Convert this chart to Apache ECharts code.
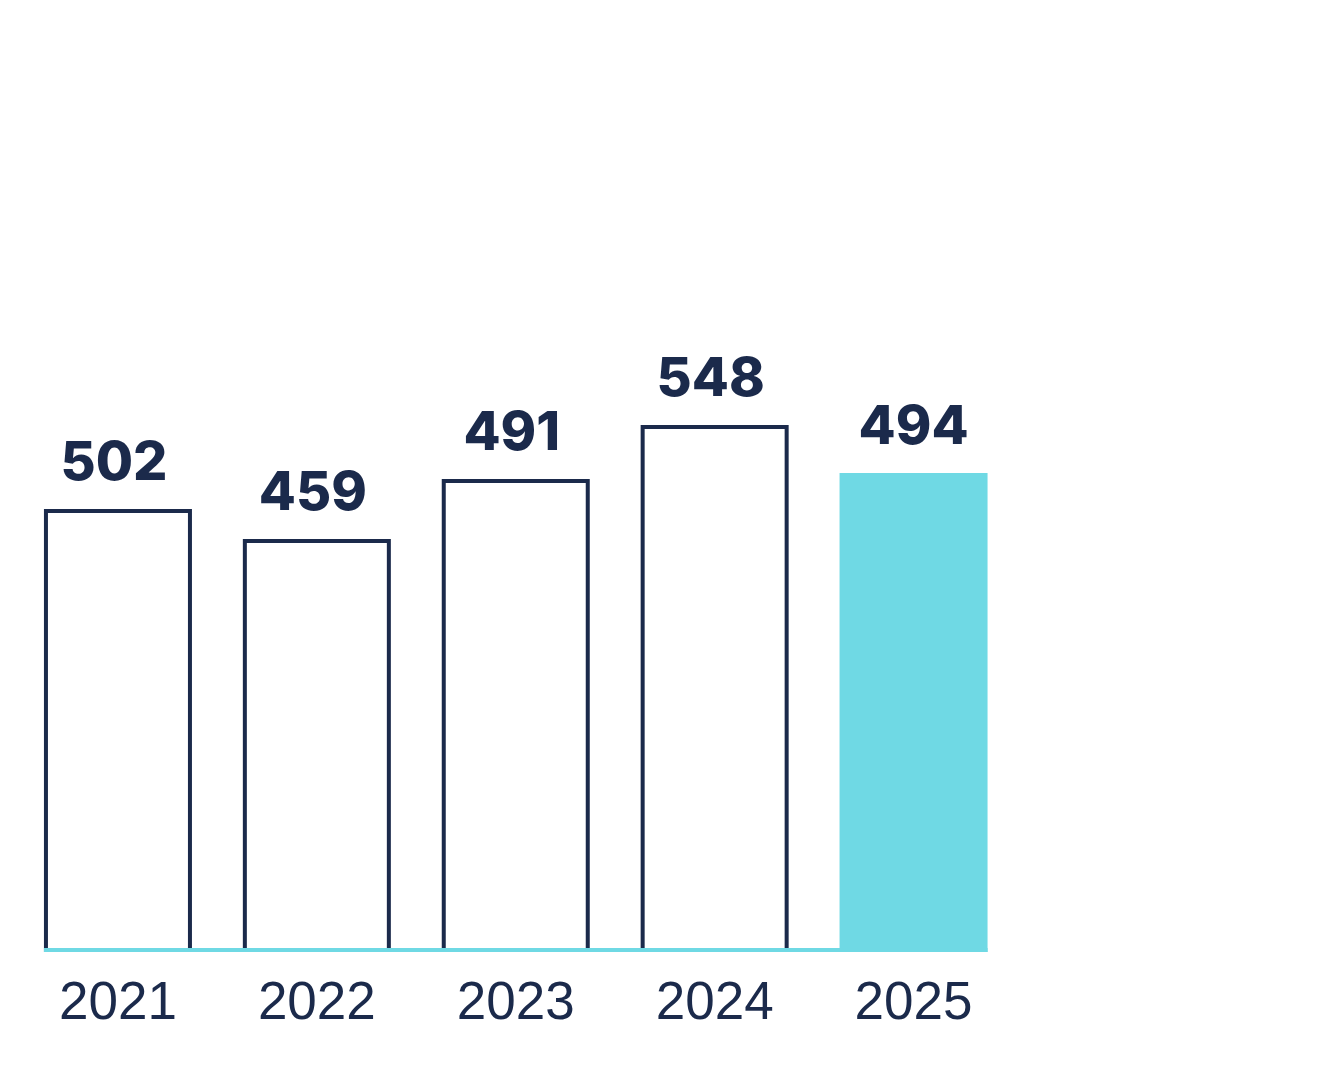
<!DOCTYPE html>
<html>
<head>
<meta charset="utf-8">
<script src="https://cdn.jsdelivr.net/npm/echarts@6/dist/echarts.min.js"></script>
<style>
html,body{margin:0;padding:0;background:#fff;}
#chart{width:1332px;height:1080px;}
</style>
</head>
<body>
<div id="chart"></div>
<script>
// Data
const categories = ['2021', '2022', '2023', '2024', '2025'];
const valueLabels = ['502', '459', '491', '548', '494'];
// bar heights as drawn in the picture (relative units, not proportional to labels)
const barHeights = [443, 413, 473, 527, 479];
const highlightIndex = 4;

const NAVY = '#1b2a4b';
const CYAN = '#6fd9e4';

const W = 1332, H = 1080;
const gridLeft = 18.5, gridRight = 319, gridTop = 0, gridBottom = 128;
const yMax = 952;
const barW = 148, border = 4;
const baselineLevel = 2;
const catW = (W - gridLeft - gridRight) / categories.length;
const half = (barW / 2) / catW;
const baseline = [[0 - half, baselineLevel], [categories.length - 1 + half, baselineLevel]];

const chart = echarts.init(document.getElementById('chart'), null, {renderer: 'canvas'});
chart.setOption({
  animation: false,
  backgroundColor: '#ffffff',
  grid: {left: gridLeft, right: gridRight, top: gridTop, bottom: gridBottom, containLabel: false},
  xAxis: [{
    type: 'category',
    data: categories,
    boundaryGap: true,
    axisLine: {show: false},
    axisTick: {show: false},
    axisLabel: {
      color: NAVY, fontSize: 53, fontFamily: '"Liberation Sans", Arial, sans-serif',
      margin: 26
    }
  }, {
    type: 'value', min: -0.5, max: categories.length - 0.5, show: false
  }],
  yAxis: {type: 'value', min: 0, max: yMax, show: false, splitLine: {show: false}},
  series: [{
    type: 'bar',
    xAxisIndex: 0,
    barWidth: barW,
    data: barHeights.map((v, i) => i === highlightIndex
      ? {value: v, itemStyle: {color: CYAN, borderColor: CYAN, borderWidth: border}}
      : {value: v, itemStyle: {color: '#ffffff', borderColor: NAVY, borderWidth: border},
         label: {offset: [-4, 0]}}),
    label: {
      show: true, position: 'top', distance: 18,
      formatter: p => valueLabels[p.dataIndex],
      color: NAVY, fontSize: 54, fontWeight: 800,
      fontFamily: 'Inter, "Liberation Sans", sans-serif'
    },
    z: 2
  }, {
    type: 'line',
    xAxisIndex: 1,
    yAxisIndex: 0,
    data: baseline,
    symbol: 'none',
    silent: true,
    lineStyle: {color: CYAN, width: border},
    z: 3
  }]
});
</script>
</body>
</html>
